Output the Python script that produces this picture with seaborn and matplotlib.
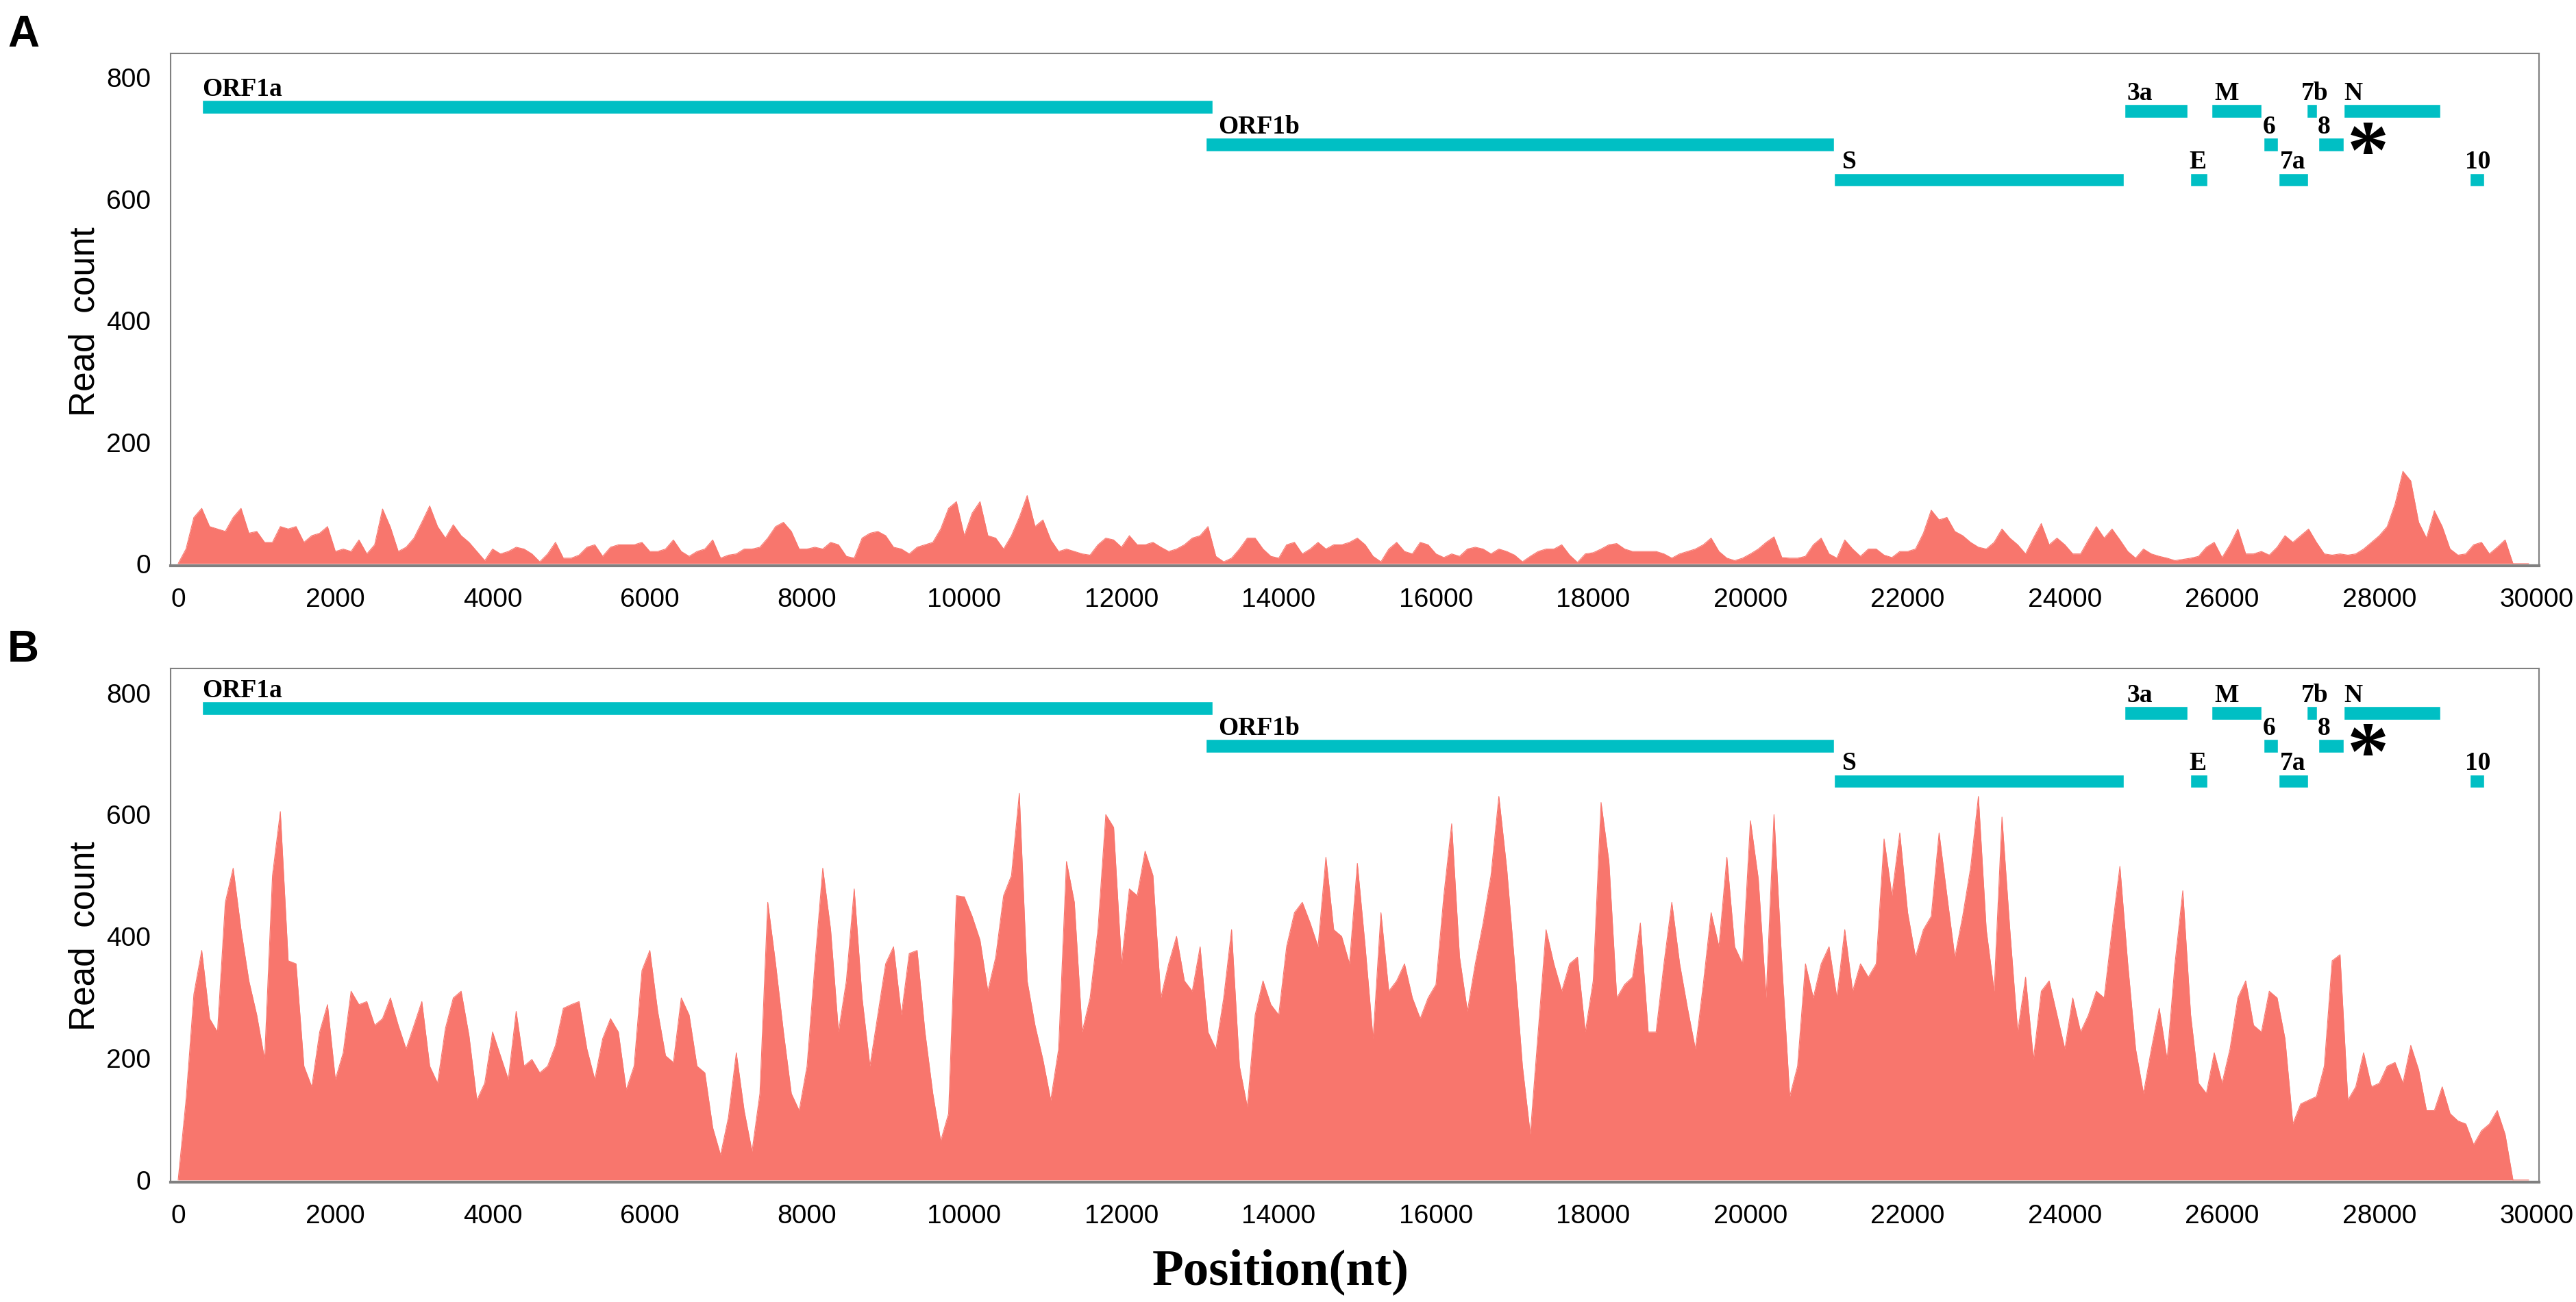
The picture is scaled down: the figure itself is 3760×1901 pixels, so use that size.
import numpy as np
import pandas as pd
import matplotlib
matplotlib.use('Agg')
import matplotlib.pyplot as plt
import seaborn as sns

positions = list(range(0, 30000, 100))

counts_a = [
    0, 24, 76, 91, 61, 57, 53, 76, 91, 50,
    53, 35, 35, 61, 57, 61, 35, 46, 50, 61,
    20, 24, 20, 39, 16, 31, 90, 60, 20, 27,
    42, 68, 95, 61, 42, 64, 46, 35, 20, 5,
    24, 16, 20, 27, 24, 16, 3, 16, 35, 9,
    9, 14, 27, 31, 12, 27, 31, 31, 31, 35,
    20, 20, 24, 39, 20, 12, 20, 24, 39, 9,
    14, 16, 24, 24, 27, 42, 61, 68, 53, 24,
    24, 27, 24, 35, 31, 12, 9, 42, 50, 53,
    46, 27, 24, 16, 27, 31, 35, 57, 91, 102,
    46, 83, 102, 46, 42, 24, 46, 76, 112, 61,
    72, 39, 20, 24, 20, 16, 14, 31, 42, 39,
    27, 46, 31, 31, 35, 27, 20, 24, 31, 42,
    46, 61, 12, 3, 9, 24, 42, 42, 24, 12,
    9, 31, 35, 16, 24, 35, 24, 31, 31, 35,
    42, 31, 12, 3, 24, 35, 20, 16, 35, 31,
    16, 10, 16, 12, 24, 27, 24, 16, 24, 20,
    14, 3, 12, 20, 24, 24, 31, 14, 2, 16,
    18, 24, 31, 33, 24, 20, 20, 20, 20, 16,
    9, 16, 20, 24, 31, 42, 20, 9, 5, 9,
    16, 24, 35, 44, 10, 9, 9, 12, 31, 42,
    16, 9, 39, 24, 12, 24, 24, 14, 10, 20,
    20, 24, 50, 88, 72, 76, 53, 46, 35, 27,
    24, 35, 57, 42, 31, 16, 42, 66, 31, 42,
    31, 16, 16, 39, 61, 42, 57, 39, 20, 9,
    24, 16, 12, 9, 5, 7, 9, 12, 27, 35,
    10, 31, 57, 16, 16, 20, 14, 27, 46, 35,
    46, 57, 35, 16, 14, 16, 14, 16, 24, 35,
    46, 61, 98, 152, 136, 68, 42, 87, 61, 24,
    14, 16, 31, 35, 16, 27, 39, 0, 0, 0,
]

counts_b = [
    0, 131, 305, 377, 265, 243, 456, 512, 411, 327,
    271, 198, 500, 605, 360, 355, 187, 153, 243, 288,
    165, 209, 310, 288, 293, 254, 265, 299, 254, 215,
    254, 293, 187, 159, 249, 299, 310, 237, 131, 159,
    243, 204, 165, 277, 187, 198, 176, 187, 221, 282,
    288, 293, 215, 165, 232, 265, 243, 148, 187, 344,
    377, 277, 204, 193, 299, 271, 187, 176, 86, 41,
    103, 209, 114, 47, 142, 456, 355, 243, 142, 114,
    187, 355, 512, 411, 243, 327, 478, 299, 187, 271,
    355, 383, 271, 372, 377, 243, 142, 64, 109, 467,
    465, 433, 394, 310, 366, 467, 500, 635, 327, 254,
    198, 131, 215, 523, 456, 243, 299, 411, 600, 579,
    355, 478, 467, 540, 500, 299, 355, 400, 327, 310,
    383, 243, 215, 299, 411, 187, 120, 271, 327, 288,
    271, 383, 439, 456, 422, 383, 530, 411, 400, 355,
    520, 383, 232, 439, 310, 327, 355, 299, 265, 299,
    321, 467, 585, 366, 277, 355, 422, 500, 630, 512,
    355, 187, 75, 243, 411, 355, 310, 355, 366, 243,
    327, 620, 523, 299, 321, 333, 422, 243, 243, 355,
    456, 355, 282, 215, 321, 439, 383, 530, 383, 355,
    590, 495, 299, 600, 355, 137, 187, 355, 299, 355,
    383, 299, 411, 310, 355, 333, 355, 560, 467, 570,
    439, 366, 411, 433, 570, 467, 366, 433, 512, 630,
    411, 310, 596, 411, 243, 333, 198, 310, 327, 271,
    215, 299, 243, 271, 310, 299, 411, 515, 355, 215,
    142, 215, 282, 198, 355, 475, 271, 159, 142, 209,
    159, 215, 299, 327, 254, 243, 310, 299, 232, 92,
    125, 131, 137, 187, 360, 370, 131, 153, 209, 153,
    159, 187, 193, 159, 221, 181, 114, 114, 153, 109,
    97, 92, 58, 81, 92, 114, 75, 0, 0, 0,
]

# genome annotation
gene_names = ['ORF1a', 'ORF1b', 'S', '3a', 'E', 'M', '6', '7a', '7b', '8', 'N', '10']
gene_start = [303, 13075, 21066, 24760, 25591, 25865, 26532, 26721, 27078, 27221, 27545, 29150]
gene_end = [13160, 21066, 24753, 25560, 25812, 26500, 26714, 27091, 27208, 27545, 28780, 29332]
label_x = [303, 13230, 21170, 24790, 25580, 25900, 26520, 26740, 27010, 27210, 27552, 29090]
gene_row = [0, 2, 3, 1, 3, 1, 2, 3, 1, 2, 1, 3]
row_y_a = [752, 745, 690, 632]
row_y_b = [775, 767, 713, 655]
star_x = 27860

fill_col = '#F8766D'
bar_col = '#00BFC4'
spine_col = '#808080'

sns.set_theme(style='white')
plt.rcParams['font.family'] = ['Liberation Sans', 'DejaVu Sans']
plt.rcParams['text.color'] = 'black'
plt.rcParams['axes.labelcolor'] = 'black'

fig = plt.figure(figsize=(37.6, 19.01), dpi=100)
W, H = 3760, 1901
axA = fig.add_axes([249 / W, 1 - 826 / H, (3706 - 249) / W, (826 - 78) / H])
axB = fig.add_axes([249 / W, 1 - 1726 / H, (3706 - 249) / W, (1726 - 976) / H])

for ax, counts, rows in [(axA, counts_a, row_y_a), (axB, counts_b, row_y_b)]:
    df = pd.DataFrame({'pos': positions, 'count': counts})
    ax.fill_between(df['pos'], df['count'], 0, color=fill_col, lw=0, zorder=1)
    sns.lineplot(data=df, x='pos', y='count', ax=ax, color=fill_col, linewidth=0.8, zorder=2)

    ys = [rows[r] for r in gene_row]
    widths = [e - s for s, e in zip(gene_start, gene_end)]
    ax.barh(ys, widths, left=gene_start, height=22, color=bar_col, zorder=3)
    for name, lx, y in zip(gene_names, label_x, ys):
        ax.text(lx, y + 18, name, family='Liberation Serif', fontweight='bold',
                fontsize=27, color='black', ha='left', va='baseline', zorder=4)
    ax.annotate('*', (star_x, rows[2] + 14), xytext=(0, -44), textcoords='offset points',
                family='Liberation Serif', fontweight='bold', fontsize=88, color='black',
                ha='center', va='baseline', zorder=4)

    ax.set_xlim(-96, 30031)
    ax.set_ylim(-3.5, 840)
    ax.set_xticks(range(0, 30001, 2000))
    ax.set_yticks(range(0, 801, 200))
    ax.set_xlabel('')
    ax.set_ylabel('')
    ax.tick_params(axis='both', direction='out', length=14, width=2.5, color='black',
                   labelsize=28, labelcolor='black')
    ax.tick_params(axis='x', pad=9)
    ax.tick_params(axis='y', pad=7)
    for side in ['left', 'top', 'right']:
        ax.spines[side].set_color(spine_col)
        ax.spines[side].set_linewidth(1.5)
    ax.spines['bottom'].set_color(spine_col)
    ax.spines['bottom'].set_linewidth(3)
    ax.grid(False)

fig.text(124 / W, 1 - 470 / H, 'Read  count', rotation=90, fontsize=37, ha='center', va='center')
fig.text(124 / W, 1 - 1367 / H, 'Read  count', rotation=90, fontsize=37, ha='center', va='center')
fig.text(11 / W, 1 - 68 / H, 'A', fontsize=46, fontweight='bold', ha='left', va='baseline')
fig.text(11 / W, 1 - 966 / H, 'B', fontsize=46, fontweight='bold', ha='left', va='baseline')
fig.text(1869 / W, 1 - 1857 / H, 'Position(nt)', family='Liberation Serif', fontweight='bold',
         fontsize=54, ha='center', va='center')

fig.savefig('out.png', dpi=100, facecolor='white')
